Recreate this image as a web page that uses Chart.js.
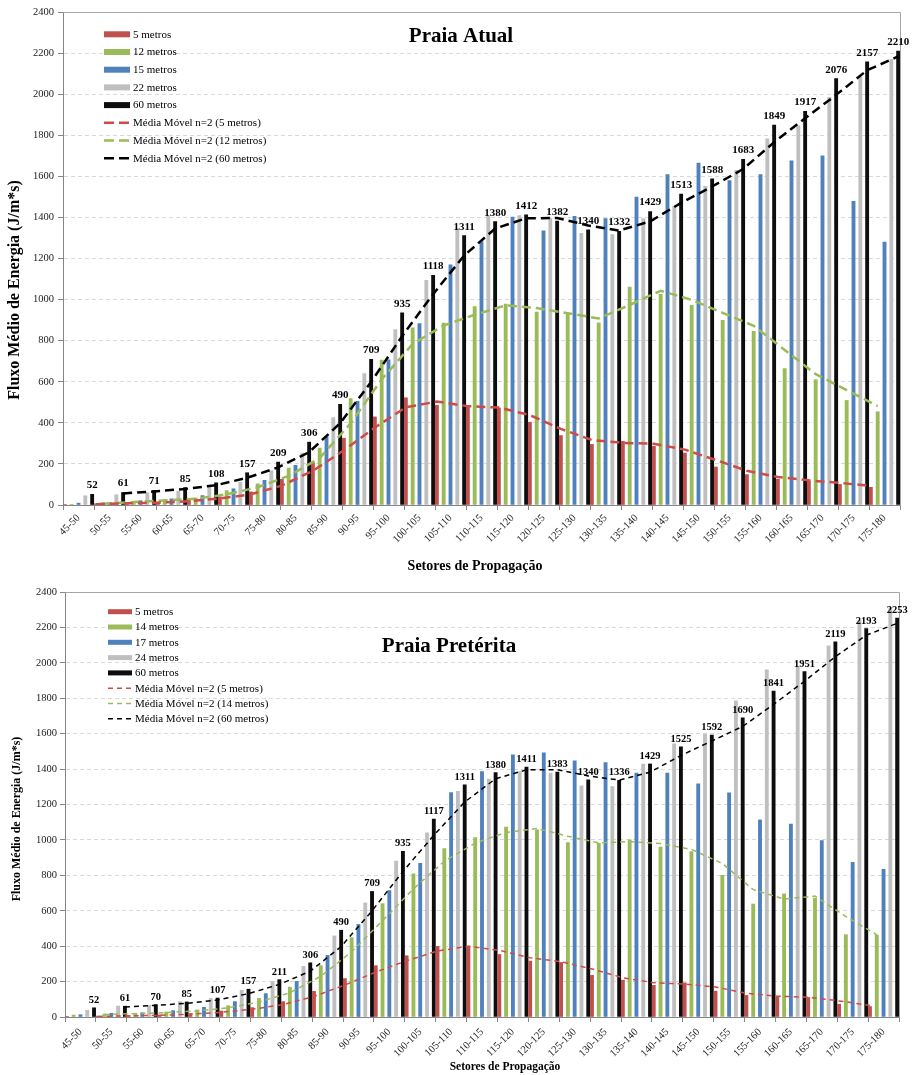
<!DOCTYPE html>
<html>
<head>
<meta charset="utf-8">
<title>Fluxo Médio de Energia por Setor de Propagação</title>
<script src="https://cdn.jsdelivr.net/npm/chart.js@4.4.1/dist/chart.umd.min.js"></script>
<style>
  html, body { margin: 0; padding: 0; background: #ffffff; }
  #wrap { position: relative; width: 915px; height: 1075px; }
  canvas { position: absolute; left: 0; }
  #atual { top: 0; }
  #preterita { top: 580px; }
</style>
</head>
<body>
<div id="wrap">
  <canvas id="atual" width="915" height="580"></canvas>
  <canvas id="preterita" width="915" height="495"></canvas>
</div>
<script>
// Propagation sectors (degrees)
const sectors = ['45-50', '50-55', '55-60', '60-65', '65-70', '70-75', '75-80', '80-85', '85-90',
  '90-95', '95-100', '100-105', '105-110', '110-115', '115-120', '120-125', '125-130', '130-135',
  '135-140', '140-145', '145-150', '150-155', '155-160', '160-165', '165-170', '170-175', '175-180'];

// Praia Atual — mean energy flux (J/m*s) by depth
const atual5m  = [2, 6, 10, 13, 23, 40, 64, 125, 208, 325, 429, 522, 485, 477, 472, 403, 338, 295, 310, 286, 253, 185, 148, 125, 115, 100, 86];
const atual12m = [2, 11, 18, 26, 34, 70, 103, 180, 277, 518, 706, 862, 886, 966, 978, 939, 929, 887, 1061, 1025, 972, 899, 846, 664, 610, 509, 454];
const atual15m = [9, 12, 21, 30, 46, 79, 120, 193, 332, 505, 707, 883, 1169, 1282, 1402, 1335, 1405, 1394, 1499, 1608, 1665, 1579, 1608, 1676, 1700, 1478, 1280];
const atual22m = [45, 50, 60, 67, 86, 111, 167, 253, 425, 640, 854, 1094, 1346, 1406, 1409, 1396, 1323, 1316, 1394, 1455, 1551, 1629, 1783, 1846, 1985, 2083, 2168];
const atual60m = [52, 61, 71, 85, 108, 157, 209, 306, 490, 709, 935, 1118, 1311, 1380, 1412, 1382, 1340, 1332, 1429, 1513, 1588, 1683, 1849, 1917, 2076, 2157, 2210];

// Praia Pretérita — mean energy flux (J/m*s) by depth
const preterita5m  = [2, 5, 8, 12, 19, 34, 53, 87, 145, 217, 290, 346, 399, 400, 353, 316, 308, 235, 208, 179, 193, 146, 122, 113, 110, 72, 59];
const preterita14m = [11, 17, 21, 28, 40, 64, 105, 169, 290, 448, 640, 808, 951, 1013, 1072, 1057, 985, 981, 1000, 959, 934, 800, 638, 695, 670, 465, 463];
const preterita17m = [13, 21, 24, 36, 55, 87, 132, 201, 348, 523, 714, 868, 1267, 1386, 1480, 1492, 1446, 1437, 1377, 1377, 1317, 1266, 1113, 1089, 996, 874, 834];
const preterita24m = [38, 62, 66, 87, 105, 151, 201, 286, 458, 644, 881, 1040, 1275, 1343, 1386, 1377, 1306, 1301, 1428, 1543, 1598, 1785, 1961, 1979, 2096, 2240, 2310];
const preterita60m = [52, 61, 70, 85, 107, 157, 211, 306, 490, 709, 935, 1117, 1311, 1380, 1411, 1383, 1340, 1336, 1429, 1525, 1592, 1690, 1841, 1951, 2119, 2193, 2253];

// Y axis
const yMin = 0, yMax = 2400, yStep = 200;

const SERIF = '"Liberation Serif", "Times New Roman", serif';
const COLORS = { red: '#C0504D', green: '#9BBB59', blue: '#4F81BD', gray: '#BFBFBF', black: '#0D0D0D' };
const AXIS_COLOR = '#868686';
const GRID_COLOR = '#D9D9D9';
const CLUSTER = 1.1;     // share of a sector spanned by one cluster of bars
const BAR_WIDTH = 3.2;   // thin bars with white gaps between them

// Horizontal offset (in sector units) of the k-th bar inside a cluster of n bars
function slotOffset(k, n) {
  return CLUSTER * ((k + 0.5) / n - 0.5);
}

// Bar values placed at their slot inside each sector
function slotted(values, offset) {
  return values.map((v, i) => ({ x: i + offset, y: v }));
}

// Two-period moving average, placed on the bars of the same series
function movingAverage(values, offset) {
  const pts = [];
  for (let i = 1; i < values.length; i++) {
    pts.push({ x: i + offset, y: (values[i - 1] + values[i]) / 2 });
  }
  return pts;
}

// Frame, in-plot title, legend, axis titles and value labels
const decor = {
  id: 'decor',
  beforeDatasetsDraw(chart) {
    const a = chart.chartArea, ctx = chart.ctx;
    ctx.save();
    ctx.strokeStyle = '#A6A6A6';
    ctx.lineWidth = 1;
    ctx.beginPath();
    ctx.moveTo(Math.round(a.left) + 0.5, Math.round(a.top) + 0.5);
    ctx.lineTo(Math.round(a.right) + 0.5, Math.round(a.top) + 0.5);
    ctx.lineTo(Math.round(a.right) + 0.5, Math.round(a.bottom) + 0.5);
    ctx.stroke();
    ctx.restore();
  },
  afterDatasetsDraw(chart, args, o) {
    const ctx = chart.ctx;
    const ds = chart.data.datasets[o.values.dataset];
    const meta = chart.getDatasetMeta(o.values.dataset);
    ctx.save();
    ctx.fillStyle = '#000';
    ctx.font = o.values.font;
    ctx.textAlign = 'center';
    ctx.textBaseline = 'alphabetic';
    meta.data.forEach((el, i) => {
      ctx.fillText(String(ds.data[i].y), el.x, el.y - o.values.gap);
    });
    ctx.restore();
  },
  afterDraw(chart, args, o) {
    const ctx = chart.ctx;
    ctx.save();
    ctx.fillStyle = '#000';
    ctx.textBaseline = 'middle';

    // chart title
    ctx.font = o.title.font;
    ctx.textAlign = 'center';
    ctx.fillText(o.title.text, o.title.x, o.title.y);

    // axis titles
    ctx.font = o.xTitle.font;
    ctx.fillText(o.xTitle.text, o.xTitle.x, o.xTitle.y);
    ctx.save();
    ctx.translate(o.yTitle.x, o.yTitle.y);
    ctx.rotate(-Math.PI / 2);
    ctx.font = o.yTitle.font;
    ctx.fillText(o.yTitle.text, 0, 0);
    ctx.restore();

    // legend
    const L = o.legend;
    ctx.font = L.font;
    ctx.textAlign = 'left';
    chart.data.datasets.forEach((d, i) => {
      const y = L.y + i * L.dy;
      if (d.type === 'bar') {
        ctx.fillStyle = d.backgroundColor;
        ctx.fillRect(L.x, y - L.swatchH / 2, L.swatchW, L.swatchH);
      } else {
        ctx.save();
        ctx.strokeStyle = d.borderColor;
        ctx.lineWidth = L.lineWidth;
        ctx.setLineDash(L.dash);
        ctx.beginPath();
        ctx.moveTo(L.x, y);
        ctx.lineTo(L.x + L.swatchW, y);
        ctx.stroke();
        ctx.restore();
      }
      ctx.fillStyle = '#000';
      ctx.fillText(d.label, L.textX, y + 0.5);
    });
    ctx.restore();
  }
};

function buildChart(canvasId, cfg) {
  const n = cfg.series.length;
  const bars = cfg.series.map((s, k) => ({
    type: 'bar',
    label: s.label,
    data: slotted(s.values, slotOffset(k, n)),
    backgroundColor: s.color,
    borderWidth: 0,
    grouped: false,
    barThickness: BAR_WIDTH,
    order: 2,
    xAxisID: 'xs',
    yAxisID: 'y'
  }));
  const trends = cfg.trends.map(t => ({
    type: 'line',
    label: t.label,
    data: movingAverage(cfg.series[t.series].values, slotOffset(t.series, n)),
    borderColor: t.color,
    borderWidth: cfg.trendWidth,
    borderDash: cfg.trendDash,
    pointRadius: 0,
    fill: false,
    tension: 0,
    order: 1,
    xAxisID: 'xs',
    yAxisID: 'y'
  }));

  return new Chart(document.getElementById(canvasId), {
    type: 'bar',
    data: { labels: sectors, datasets: bars.concat(trends) },
    options: {
      responsive: false,
      animation: false,
      devicePixelRatio: 1,
      events: [],
      layout: { padding: cfg.padding },
      plugins: {
        legend: { display: false },
        tooltip: { enabled: false },
        decor: cfg.decor
      },
      scales: {
        // visible sector axis: labels at sector centres, tick marks on sector boundaries
        x: {
          type: 'category',
          labels: sectors,
          offset: true,
          grid: { display: true, drawOnChartArea: false, drawTicks: true, tickLength: 5, tickColor: AXIS_COLOR, offset: true },
          border: { color: AXIS_COLOR, width: 1 },
          ticks: { minRotation: 45, maxRotation: 45, autoSkip: false, padding: cfg.xTickPad, color: '#1a1a1a', font: { family: SERIF, size: cfg.tickSize } },
          afterFit: s => { s.height = cfg.xHeight; }
        },
        // hidden numeric twin of the sector axis that places bars and trend lines
        xs: {
          type: 'linear', display: false, offset: false,
          min: -0.5, max: sectors.length - 0.5,
          grid: { offset: false },
          ticks: { stepSize: 1 }
        },
        y: {
          min: yMin, max: yMax,
          grid: { color: GRID_COLOR, lineWidth: 1, drawTicks: true, tickLength: 5, tickColor: AXIS_COLOR, tickBorderDash: [] },
          border: { color: AXIS_COLOR, width: 1, dash: [4, 3] },
          ticks: { stepSize: yStep, padding: cfg.yTickPad, color: '#1a1a1a', font: { family: SERIF, size: cfg.tickSize }, callback: v => String(v) },
          afterFit: s => { s.width = cfg.yWidth; }
        }
      }
    },
    plugins: [decor]
  });
}

buildChart('atual', {
  series: [
    { label: '5 metros',  values: atual5m,  color: COLORS.red },
    { label: '12 metros', values: atual12m, color: COLORS.green },
    { label: '15 metros', values: atual15m, color: COLORS.blue },
    { label: '22 metros', values: atual22m, color: COLORS.gray },
    { label: '60 metros', values: atual60m, color: COLORS.black }
  ],
  trends: [
    { label: 'Média Móvel n=2 (5 metros)',  series: 0, color: '#CF4B47' },
    { label: 'Média Móvel n=2 (12 metros)', series: 1, color: '#9BBB59' },
    { label: 'Média Móvel n=2 (60 metros)', series: 4, color: '#000000' }
  ],
  trendWidth: 2.5,
  trendDash: [9, 5],
  padding: { top: 12, right: 15, left: 0, bottom: 0 },
  yWidth: 63,
  xHeight: 75,
  xTickPad: 2,
  yTickPad: 4,
  tickSize: 10.5,
  decor: {
    title: { text: 'Praia Atual', x: 461, y: 37, font: 'bold 21px ' + SERIF },
    xTitle: { text: 'Setores de Propagação', x: 475, y: 566, font: 'bold 14px ' + SERIF },
    yTitle: { text: 'Fluxo Médio de Energia (J/m*s)', x: 15, y: 290, font: 'bold 16px ' + SERIF },
    legend: { x: 104, y: 34.3, dy: 17.7, swatchW: 26, swatchH: 6, textX: 133, font: '11px ' + SERIF, lineWidth: 2.5, dash: [10, 5] },
    values: { dataset: 4, font: 'bold 11px ' + SERIF, gap: 6 }
  }
});

buildChart('preterita', {
  series: [
    { label: '5 metros',  values: preterita5m,  color: COLORS.red },
    { label: '14 metros', values: preterita14m, color: COLORS.green },
    { label: '17 metros', values: preterita17m, color: COLORS.blue },
    { label: '24 metros', values: preterita24m, color: COLORS.gray },
    { label: '60 metros', values: preterita60m, color: COLORS.black }
  ],
  trends: [
    { label: 'Média Móvel n=2 (5 metros)',  series: 0, color: '#CF4B47' },
    { label: 'Média Móvel n=2 (14 metros)', series: 1, color: '#9BBB59' },
    { label: 'Média Móvel n=2 (60 metros)', series: 4, color: '#000000' }
  ],
  trendWidth: 1.5,
  trendDash: [5, 4],
  padding: { top: 12, right: 16, left: 0, bottom: 0 },
  yWidth: 65,
  xHeight: 58,
  xTickPad: 4,
  yTickPad: 3,
  tickSize: 10.5,
  decor: {
    title: { text: 'Praia Pretérita', x: 449, y: 67, font: 'bold 21px ' + SERIF },
    xTitle: { text: 'Setores de Propagação', x: 505, y: 487, font: 'bold 11.5px ' + SERIF },
    yTitle: { text: 'Fluxo Médio de Energia (J/m*s)', x: 16.5, y: 239, font: 'bold 12px ' + SERIF },
    legend: { x: 108, y: 31.7, dy: 15.3, swatchW: 24, swatchH: 5, textX: 135, font: '11px ' + SERIF, lineWidth: 1.5, dash: [5, 4] },
    values: { dataset: 4, font: 'bold 10.5px ' + SERIF, gap: 5 }
  }
});
</script>
</body>
</html>
